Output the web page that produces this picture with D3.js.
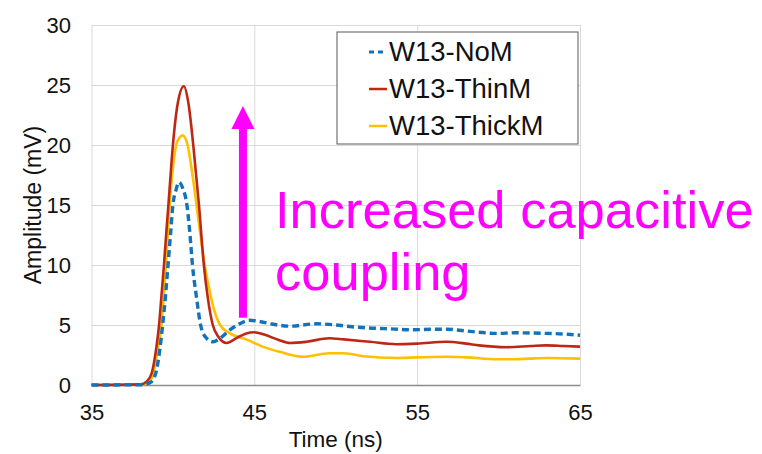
<!DOCTYPE html>
<html>
<head>
<meta charset="utf-8">
<script src="https://cdn.jsdelivr.net/npm/d3@7"></script>
<style>
body { margin: 0; background: #fff; }
svg { display: block; font-family: "Liberation Sans", Arial, sans-serif; }
</style>
</head>
<body>
<svg width="762" height="454"></svg>
<script>
// tick values
var xTicks = [35, 45, 55, 65];
var yTicks = [0, 5, 10, 15, 20, 25, 30];

// W13-NoM (blue dashed)
var noMTime = [35, 38, 38.6, 38.95, 39.2, 39.37, 39.55, 39.7, 39.85, 40.0, 40.2, 40.37, 40.6, 40.86, 41.05, 41.2, 41.45, 41.7, 42.0, 42.45, 42.9, 43.5, 44.1, 44.7, 45.3, 46, 47.2, 48.8, 50, 51, 52, 53, 54.7, 56, 56.8, 58, 59.9, 61, 62.9, 64, 65];
var noMAmp = [0, 0.02, 0.2, 1, 3, 5, 7.5, 10, 12.5, 15, 16.3, 16.9, 16.4, 15, 12.5, 10, 7.3, 5, 4, 3.6, 3.9, 4.6, 5.1, 5.4, 5.3, 5.1, 4.9, 5.1, 5.0, 4.85, 4.75, 4.7, 4.6, 4.65, 4.65, 4.5, 4.3, 4.35, 4.3, 4.25, 4.15];

// W13-ThinM (red)
var thinMTime = [35, 38, 38.4, 38.7, 39.0, 39.15, 39.3, 39.45, 39.6, 39.75, 40.0, 40.3, 40.67, 40.95, 41.25, 41.6, 41.9, 42.15, 42.45, 42.8, 43.3, 43.9, 44.5, 45.0, 45.6, 46.5, 47.2, 48.2, 49.6, 50.5, 52.1, 53.7, 55, 56.8, 58, 58.8, 60.5, 62, 62.9, 64, 65];
var thinMAmp = [0, 0.05, 0.3, 1, 3.3, 5, 7.5, 10, 12.8, 15.5, 20, 23.5, 24.9, 23.5, 20, 15, 10, 7.2, 5, 4, 3.5, 3.9, 4.3, 4.4, 4.2, 3.75, 3.5, 3.6, 3.9, 3.8, 3.6, 3.4, 3.45, 3.6, 3.45, 3.3, 3.15, 3.25, 3.3, 3.25, 3.2];

// W13-ThickM (yellow)
var thickMTime = [35, 38, 38.5, 38.8, 39.05, 39.3, 39.57, 39.8, 40.2, 40.4, 40.6, 40.9, 41.15, 41.45, 41.7, 41.95, 42.2, 42.5, 42.9, 43.5, 44.5, 45.5, 46.6, 48, 49.6, 50.5, 51.7, 53.7, 55, 56.8, 58, 59.9, 61, 61.9, 63, 65];
var thickMAmp = [0, 0.02, 0.2, 1, 2.8, 5, 10, 15, 20, 20.6, 20.8, 20, 18, 15, 12.4, 10, 8.2, 6.4, 5, 4.3, 3.8, 3.2, 2.75, 2.35, 2.65, 2.65, 2.4, 2.25, 2.3, 2.35, 2.3, 2.15, 2.15, 2.2, 2.25, 2.2];

var seriesNames = ["W13-NoM", "W13-ThinM", "W13-ThickM"];
var seriesColors = ["#1273bb", "#bd2814", "#ffc000"];

// annotation arrow (time, amplitude from -> to)
var arrowTime = 44.3, arrowFrom = 5.6, arrowTo = 23.25;
var noteLines = ["Increased capacitive", "coupling"];

var svg = d3.select("svg"),
    margin = {top: 25, right: 182, bottom: 69, left: 91.5},
    width = +svg.attr("width") - margin.left - margin.right,
    height = +svg.attr("height") - margin.top - margin.bottom,
    g = svg.append("g").attr("transform", "translate(" + margin.left + "," + margin.top + ")");

var x = d3.scaleLinear().domain([35, 65]).range([0, width]);
var y = d3.scaleLinear().domain([0, 30]).range([height, 0]);

// grid
g.append("g")
    .call(d3.axisLeft(y).tickValues(yTicks.slice(1)).tickSize(-width).tickFormat(""))
    .call(function (s) { s.select(".domain").remove(); })
    .selectAll("line").attr("stroke", "#d9d9d9");

g.append("g")
    .attr("transform", "translate(0," + height + ")")
    .call(d3.axisBottom(x).tickValues(xTicks).tickSize(-height).tickFormat(""))
    .call(function (s) { s.select(".domain").remove(); })
    .selectAll("line").attr("stroke", "#d9d9d9");

// axes
var yAxis = g.append("g")
    .call(d3.axisLeft(y).tickValues(yTicks).tickSize(0).tickPadding(20.5));
yAxis.select(".domain").remove();
yAxis.selectAll("text").attr("font-size", 22).attr("fill", "#111")
    .attr("font-family", "Liberation Sans, Arial, sans-serif");

var xAxis = g.append("g")
    .attr("transform", "translate(0," + height + ")")
    .call(d3.axisBottom(x).tickValues(xTicks).tickSize(0).tickPadding(19.5));
xAxis.select(".domain").attr("stroke", "#8c8c8c").attr("stroke-width", 1.6);
xAxis.selectAll("text").attr("font-size", 22).attr("fill", "#111")
    .attr("font-family", "Liberation Sans, Arial, sans-serif");

// axis titles
g.append("text")
    .attr("x", width / 2)
    .attr("y", height + 62)
    .attr("text-anchor", "middle")
    .attr("font-size", 22.5)
    .attr("fill", "#111")
    .text("Time (ns)");

g.append("text")
    .attr("transform", "rotate(-90)")
    .attr("x", -height / 2)
    .attr("y", -51)
    .attr("text-anchor", "middle")
    .attr("font-size", 23)
    .attr("fill", "#111")
    .text("Amplitude (mV)");

// lines
var line = d3.line()
    .x(function (d) { return x(d[0]); })
    .y(function (d) { return y(d[1]); })
    .curve(d3.curveMonotoneX);

var series = [
    {name: seriesNames[0], pts: d3.zip(noMTime, noMAmp), color: seriesColors[0], dash: "7,4", w: 3.4},
    {name: seriesNames[1], pts: d3.zip(thinMTime, thinMAmp), color: seriesColors[1], dash: null, w: 2.6},
    {name: seriesNames[2], pts: d3.zip(thickMTime, thickMAmp), color: seriesColors[2], dash: null, w: 2.6}
];

// draw yellow then red then blue
[2, 1, 0].forEach(function (i) {
    var s = series[i];
    g.append("path")
        .datum(s.pts)
        .attr("fill", "none")
        .attr("stroke", s.color)
        .attr("stroke-width", s.w)
        .attr("stroke-dasharray", s.dash)
        .attr("stroke-linejoin", "round")
        .attr("d", line);
});

// legend
var legend = g.append("g").attr("transform", "translate(" + (width - 243) + ",7)");
legend.append("rect")
    .attr("width", 241).attr("height", 112)
    .attr("fill", "#fff").attr("stroke", "#595959").attr("stroke-width", 1);

series.forEach(function (s, i) {
    var ly = 20 + i * 37;
    legend.append("line")
        .attr("x1", 32).attr("x2", 50)
        .attr("y1", ly).attr("y2", ly)
        .attr("stroke", s.color)
        .attr("stroke-width", s.dash ? 3 : 2.5)
        .attr("stroke-dasharray", s.dash ? "5,4" : null);
    legend.append("text")
        .attr("x", 52)
        .attr("y", ly + 9)
        .attr("font-size", 27.5)
        .attr("fill", "#111")
        .text(s.name);
});

// arrow annotation
var ax = x(arrowTime), headLen = 23, headHalf = 11.5;
g.append("line")
    .attr("x1", ax).attr("x2", ax)
    .attr("y1", y(arrowFrom)).attr("y2", y(arrowTo) + headLen - 1)
    .attr("stroke", "#ff00ff").attr("stroke-width", 8);
g.append("path")
    .attr("fill", "#ff00ff")
    .attr("d", "M" + ax + "," + y(arrowTo) +
        "L" + (ax + headHalf) + "," + (y(arrowTo) + headLen) +
        "L" + (ax - headHalf) + "," + (y(arrowTo) + headLen) + "Z");

g.selectAll(".note")
    .data(noteLines)
    .enter().append("text")
    .attr("class", "note")
    .attr("x", 275 - margin.left)
    .attr("y", function (d, i) { return 228 - margin.top + i * 62; })
    .attr("font-size", 52.5)
    .attr("fill", "#ff00ff")
    .text(function (d) { return d; });
</script>
</body>
</html>
